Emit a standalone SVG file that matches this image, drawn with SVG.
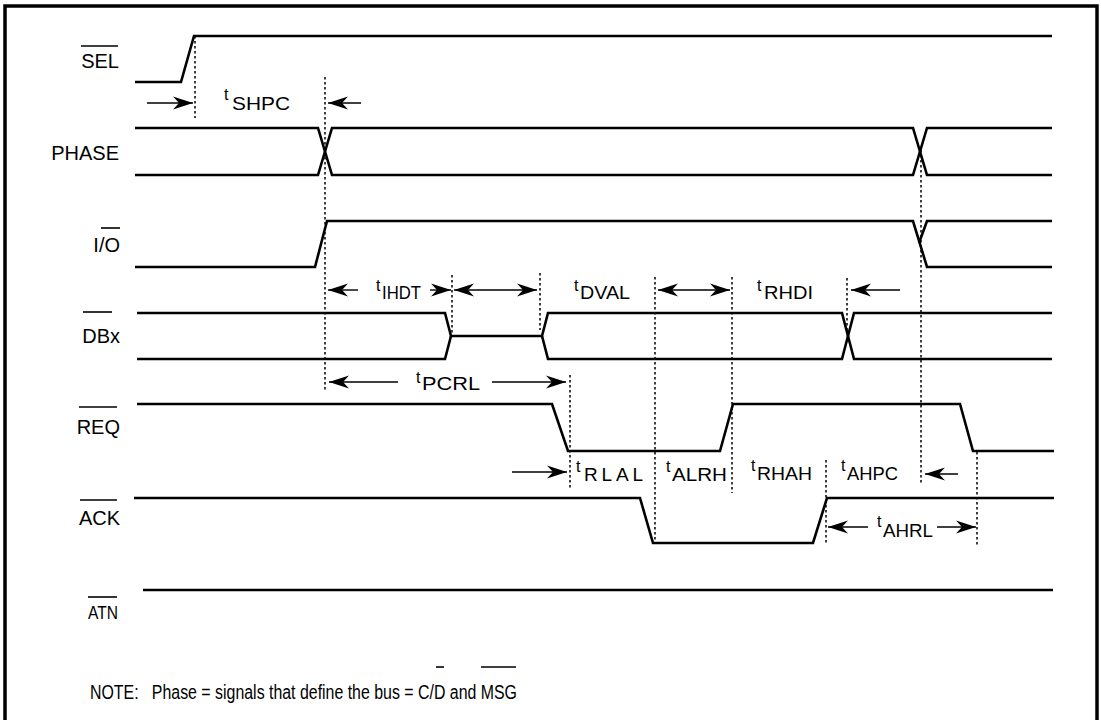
<svg xmlns="http://www.w3.org/2000/svg" width="1101" height="720" viewBox="0 0 1101 720">
<style>
text{font-family:"Liberation Sans",Arial,sans-serif;fill:#000}
.lbl{font-size:20px;text-anchor:end}
.tt{font-size:16px}
.sub{font-size:19px}
.sig{fill:none;stroke:#000;stroke-width:2.6;stroke-linejoin:miter}
.ov{stroke:#000;stroke-width:1.6}
.dot{stroke:#000;stroke-width:1.5;stroke-dasharray:2.5 2.5;fill:none}
.arr{stroke:#000;stroke-width:1.4;fill:none;marker-end:url(#ah)}
.dbl{stroke:#000;stroke-width:1.4;fill:none;marker-end:url(#ah);marker-start:url(#ah)}
</style>
<defs>
<marker id="ah" viewBox="-21 -7 22 14" refX="0" refY="0" markerWidth="22" markerHeight="14" markerUnits="userSpaceOnUse" orient="auto-start-reverse">
<path d="M0,0 L-20,-6.5 L-14,0 L-20,6.5 Z" fill="#000"/>
</marker>
</defs>
<rect x="5" y="6" width="1092" height="800" fill="#fff" stroke="#000" stroke-width="3.5"/>

<g id="sel">
<text class="lbl" x="119" y="68">SEL</text>
<line class="ov" x1="81" y1="46" x2="118" y2="46"/>
<path class="sig" d="M135,82 H181 L194,36 H1052"/>
</g>
<g id="phase">
<text class="lbl" x="119" y="160">PHASE</text>
<path class="sig" d="M135,128 H318 L332,175 H913 L927,128 H1052"/>
<path class="sig" d="M135,175 H318 L332,128 H913 L927,175 H1052"/>
</g>
<g id="io">
<text class="lbl" x="120" y="252">I/O</text>
<line class="ov" x1="101" y1="228" x2="120" y2="228"/>
<path class="sig" d="M135,267 H315 L327,221 H913 L927,267 H1052"/>
<path class="sig" d="M1052,221 H927 L919,243"/>
</g>
<g id="dbx">
<text class="lbl" x="120" y="343">DBx</text>
<line class="ov" x1="83" y1="312" x2="112" y2="312"/>
<path class="sig" d="M137,313 H445 L451,336 H542 L548,313 H842 L854,359 H1052"/>
<path class="sig" d="M137,359 H445 L451,336 M542,336 L548,359 H842 L854,313 H1052"/>
</g>
<g id="req">
<text class="lbl" x="120" y="434">REQ</text>
<line class="ov" x1="79" y1="407" x2="117" y2="407"/>
<path class="sig" d="M137,404 H552 L568,451 H720 L733,404 H960 L973,451 H1054"/>
</g>
<g id="ack">
<text class="lbl" x="120" y="525">ACK</text>
<line class="ov" x1="80" y1="500" x2="117" y2="500"/>
<path class="sig" d="M134,498 H640 L653,543 H813 L827,498 H1054"/>
</g>
<g id="atn">
<text class="lbl" x="118" y="619" style="font-size:19px" textLength="30" lengthAdjust="spacingAndGlyphs">ATN</text>
<line class="ov" x1="88" y1="597" x2="117" y2="597"/>
<path class="sig" d="M143,590 H1053"/>
</g>

<g id="connectors">
<line class="dot" x1="195" y1="36" x2="195" y2="118"/>
<line class="dot" x1="325" y1="77" x2="325" y2="390"/>
<line class="dot" x1="452" y1="275" x2="452" y2="333"/>
<line class="dot" x1="540" y1="273" x2="540" y2="330"/>
<line class="dot" x1="655" y1="277" x2="655" y2="543"/>
<line class="dot" x1="732" y1="277" x2="732" y2="493"/>
<line class="dot" x1="847" y1="278" x2="847" y2="333"/>
<line class="dot" x1="921" y1="150" x2="921" y2="485"/>
<line class="dot" x1="570" y1="375" x2="570" y2="488"/>
<line class="dot" x1="826" y1="460" x2="826" y2="543"/>
<line class="dot" x1="977" y1="452" x2="977" y2="545"/>

<line class="arr" x1="147" y1="103" x2="193" y2="103"/>
<line class="arr" x1="361" y1="103" x2="328" y2="103"/>
<line class="arr" x1="358" y1="290" x2="328" y2="290"/>
<line class="arr" x1="430" y1="290" x2="451" y2="290"/>
<line class="dbl" x1="454" y1="290" x2="537" y2="290"/>
<line class="dbl" x1="658" y1="290" x2="730" y2="290"/>
<line class="arr" x1="900" y1="290" x2="851" y2="290"/>
<line class="arr" x1="398" y1="382" x2="329" y2="382"/>
<line class="arr" x1="492" y1="382" x2="566" y2="382"/>
<line class="arr" x1="512" y1="472" x2="567" y2="472"/>
<line class="arr" x1="958" y1="474" x2="925" y2="474"/>
<line class="arr" x1="868" y1="527" x2="828" y2="527"/>
<line class="arr" x1="937" y1="527" x2="976" y2="527"/>
</g>

<g id="tSHPC"><text class="tt" x="224" y="100">t</text><text class="sub" x="232" y="110" textLength="58" lengthAdjust="spacingAndGlyphs">SHPC</text></g>
<g id="tIHDT"><text class="tt" x="376" y="291">t</text><text class="sub" x="382" y="299" textLength="39" lengthAdjust="spacingAndGlyphs">IHDT</text></g>
<g id="tDVAL"><text class="tt" x="574" y="291">t</text><text class="sub" x="580" y="299" textLength="50" lengthAdjust="spacingAndGlyphs">DVAL</text></g>
<g id="tRHDI"><text class="tt" x="757" y="291">t</text><text class="sub" x="764" y="299" textLength="49" lengthAdjust="spacingAndGlyphs">RHDI</text></g>
<g id="tPCRL"><text class="tt" x="416" y="383">t</text><text class="sub" x="422" y="390" textLength="58" lengthAdjust="spacingAndGlyphs">PCRL</text></g>
<g id="tRLAL"><text class="tt" x="576" y="472">t</text><text class="sub" x="584" y="481" textLength="59" lengthAdjust="spacing">RLAL</text></g>
<g id="tALRH"><text class="tt" x="666" y="472">t</text><text class="sub" x="672" y="481" textLength="55" lengthAdjust="spacingAndGlyphs">ALRH</text></g>
<g id="tRHAH"><text class="tt" x="751" y="471">t</text><text class="sub" x="757" y="480" textLength="55" lengthAdjust="spacingAndGlyphs">RHAH</text></g>
<g id="tAHPC"><text class="tt" x="841" y="471">t</text><text class="sub" x="847" y="480" textLength="51" lengthAdjust="spacingAndGlyphs">AHPC</text></g>
<g id="tAHRL"><text class="tt" x="877" y="527">t</text><text class="sub" x="883" y="537" textLength="50" lengthAdjust="spacingAndGlyphs">AHRL</text></g>

<g id="note">
<text x="90" y="699" style="font-size:20px;white-space:pre" textLength="427" lengthAdjust="spacingAndGlyphs">NOTE:   Phase = signals that define the bus = C/D and MSG</text>
<line class="ov" x1="436" y1="667" x2="444" y2="667"/>
<line class="ov" x1="481" y1="667" x2="516" y2="667"/>
</g>
</svg>
